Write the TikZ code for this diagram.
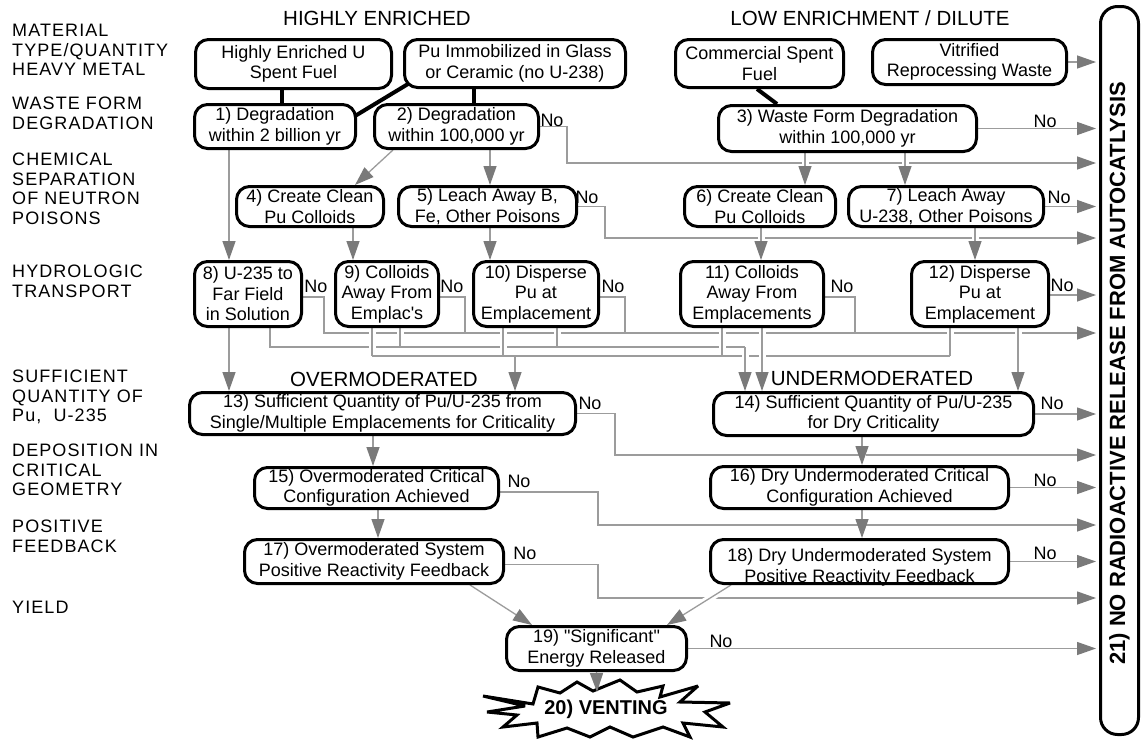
\documentclass[tikz,border=0pt]{standalone}
\usepackage{fontspec}
\setmainfont{Liberation Sans}
\newfontfamily\labfont[LetterSpace=6]{Liberation Sans}
\usetikzlibrary{arrows.meta,calc}
\pgfdeclarelayer{bg}
\pgfdeclarelayer{mid}
\pgfsetlayers{bg,mid,main}
\definecolor{lgray}{HTML}{9C9C9C}
\definecolor{agray}{HTML}{7A7A7A}
\newcommand\bxc[6]{\node[box,minimum width={#4-#2-3},minimum height={#5-#3-3}] (#1) at ({(#2+#4)/2},{(#3+#5)/2}) {#6};}
\begin{document}
\begin{tikzpicture}[x=1pt,y=-1pt,
  box/.style={draw,line width=3pt,rounded corners=13pt,fill=white,align=center,inner sep=0pt,font=\fontsize{18}{20.5}\selectfont},
  lab/.style={anchor=north west,align=left,inner sep=0pt,font=\labfont\fontsize{18}{19.5}\selectfont},
  hdr/.style={inner sep=0pt,font=\fontsize{20.5}{24}\selectfont},
  nolab/.style={inner sep=0pt,font=\fontsize{18}{20}\selectfont},
  ln/.style={draw=lgray,line width=1.3pt},
  arr/.style={ln,-{Triangle[width=13pt,length=19pt,color=agray]}},
  thk/.style={draw=black,line width=4pt},
  halo/.style={preaction={draw=white,line width=7pt,-,shorten <=3pt,shorten >=3pt}},
  endgap/.style={shorten >=3pt}
]
\useasboundingbox (0,0) rectangle (1144,742);
\begin{pgfonlayer}{bg}
\fill[white] (0,0) rectangle (1144,742);
\draw[line width=3pt,fill=white,line join=miter,miter limit=4] (483,696) -- (533,704) -- (538,687) -- (560,693) -- (577,682) -- (593,691) -- (620,680) -- (637,692) -- (663,686) -- (660,697) -- (698,686) -- (680,702) -- (730,703) -- (705,712) -- (723,727) -- (683,723) -- (690,737) -- (663,727) -- (633,737) -- (610,727) -- (590,737) -- (567,728) -- (538,737) -- (537,723) -- (503,727) -- (517,715) -- (487,712) -- (525,706) -- cycle;
\end{pgfonlayer}

% left labels
\node[lab] (L1) at (12,24) {MATERIAL\\TYPE/QUANTITY\\HEAVY METAL};
\node[lab] (L2) at (12,97) {WASTE FORM\\DEGRADATION};
\node[lab] (L3) at (12,153) {CHEMICAL\\SEPARATION\\OF NEUTRON\\POISONS};
\node[lab] (L4) at (12,265) {HYDROLOGIC\\TRANSPORT};
\node[lab] (L5) at (12,370) {SUFFICIENT\\QUANTITY OF\\Pu,\ \ U-235};
\node[lab] (L6) at (12,444) {DEPOSITION IN\\CRITICAL\\GEOMETRY};
\node[lab] (L7) at (12,520) {POSITIVE\\FEEDBACK};
\node[lab] (L8) at (12,601) {YIELD};

% headers
\node[hdr] (h1) at (377,18) {HIGHLY ENRICHED};
\node[hdr] (h2) at (870,18) {LOW ENRICHMENT / DILUTE};
\node[hdr] (h3) at (384,379) {OVERMODERATED};
\node[hdr] (h4) at (872,378) {UNDERMODERATED};

% boxes
\bxc{A}{194}{38}{393}{90}{Highly Enriched U\\Spent Fuel}
\bxc{B}{403}{38}{627}{89}{Pu Immobilized in Glass\\or Ceramic (no U-238)}
\bxc{C}{674}{38}{845}{89}{Commercial Spent\\Fuel}
\bxc{D}{871}{38}{1068}{86}{Vitrified\\Reprocessing Waste}
\bxc{n1}{193}{103}{357}{150}{1) Degradation\\within 2 billion yr}
\bxc{n2}{373}{103}{540}{150}{2) Degradation\\within 100,000 yr}
\bxc{n3}{717}{104}{978}{153}{3) Waste Form Degradation\\within 100,000 yr}
\bxc{n4}{235}{185}{385}{228}{4) Create Clean\\Pu Colloids}
\bxc{n5}{397}{185}{578}{228}{5) Leach Away B,\\Fe, Other Poisons}
\bxc{n6}{683}{185}{837}{228}{6) Create Clean\\Pu Colloids}
\bxc{n7}{847}{185}{1045}{228}{7) Leach Away\\U-238, Other Poisons}
\bxc{n8}{193}{260}{303}{328}{8) U-235 to\\Far Field\\in Solution}
\bxc{n9}{334}{260}{440}{328}{9) Colloids\\Away From\\Emplac\textquotesingle s}
\bxc{n10}{472}{260}{600}{328}{10) Disperse\\Pu at\\Emplacement}
\bxc{n11}{679}{260}{825}{328}{11) Colloids\\Away From\\Emplacements}
\bxc{n12}{910}{260}{1050}{328}{12) Disperse\\Pu at\\Emplacement}
\bxc{n13}{188}{391}{577}{436}{13) Sufficient Quantity of Pu/U-235 from\\Single/Multiple Emplacements for Criticality}
\bxc{n14}{712}{391}{1035}{437}{14) Sufficient Quantity of Pu/U-235\\for Dry Criticality}
\bxc{n15}{253}{466}{500}{510}{15) Overmoderated Critical\\Configuration Achieved}
\bxc{n16}{709}{465}{1010}{510}{16) Dry Undermoderated Critical\\Configuration Achieved}
\bxc{n17}{243}{538}{505}{585}{17) Overmoderated System\\Positive Reactivity Feedback}
\bxc{n18}{709}{538}{1010}{585}{}
\node[inner sep=0pt,align=center,font=\fontsize{18}{20.5}\selectfont] (n18t) at ([yshift=-6pt]n18.center) {18) Dry Undermoderated System\\Positive Reactivity Feedback};
\bxc{n19}{505}{625}{688}{672}{19) \textquotedbl Significant\textquotedbl\\Energy Released}

\node[draw,line width=3pt,rounded corners=17pt,minimum width=38,minimum height=728,inner sep=0pt] (n21) at (1119.5,370.5) {};
\node[rotate=90,inner sep=0pt,font=\bfseries\fontsize{22}{25}\selectfont] (t21) at ([yshift=-3pt]n21.center) {21) NO RADIOACTIVE RELEASE FROM AUTOCATLYSIS};
\node[inner sep=0pt,font=\bfseries\fontsize{20}{24}\selectfont] (v20) at (606,709) {20) VENTING};
\coordinate (v20top) at (597,692);

% No labels
\node[nolab] (no2) at (552,120) {No};
\node[nolab] (no3) at (1045,121) {No};
\node[nolab] (no5) at (587,197) {No};
\node[nolab] (no7) at (1059,197) {No};
\node[nolab] (no8) at (316,286) {No};
\node[nolab] (no9) at (452,286) {No};
\node[nolab] (no10) at (613,286) {No};
\node[nolab] (no11) at (842,286) {No};
\node[nolab] (no12) at (1062,285) {No};
\node[nolab] (no13) at (590,403) {No};
\node[nolab] (no14) at (1052,403) {No};
\node[nolab] (no15) at (519,481) {No};
\node[nolab] (no16) at (1045,480) {No};
\node[nolab] (no17) at (525,553) {No};
\node[nolab] (no18) at (1045,553) {No};
\node[nolab] (no19) at (721,641) {No};

\coordinate (ja) at (324,333);
\coordinate (jb) at (745,347);
\coordinate (jc1) at (372,356);
\coordinate (jc2) at (950,356);
\coordinate (jc3) at (515,356);

\begin{pgfonlayer}{mid}
% thick black
\draw[thk] (A.south -| 282,0) -- (n1.north -| 282,0);
\draw[thk] ([shift={(5,-5)}]B.south west) -- ([shift={(-2,13)}]n1.north east);
\draw[thk] (B.south -| 474,0) -- (n2.north -| 474,0);
\draw[thk] (C.south -| 757,0) -- (n3.north -| 777,0);
% rows 1-3
\draw[arr,endgap] (D.east) -- (n21.west |- D.east);
\draw[arr] (n1.south -| 229,0) -- (n8.north -| 229,0);
\draw[arr] (n2.south -| 393,0) -- (n4.north -| 355,0);
\draw[arr] (n2.south -| 490,0) -- (n5.north -| 490,0);
\draw[arr,endgap] (n2.east) -| (567,163) -- (n21.west |- 0,163);
\draw[arr,endgap] (n3.east) -- (n21.west |- n3.east);
\draw[arr,halo] (n3.south -| 805,0) -- (n6.north -| 805,0);
\draw[arr,halo] (n3.south -| 905,0) -- (n7.north -| 905,0);
\draw[arr] (n4.south -| 353,0) -- (n9.north -| 353,0);
\draw[arr] (n5.south -| 490,0) -- (n10.north -| 490,0);
\draw[arr,endgap] (n5.east) -| (605,238) -- (n21.west |- 0,238);
\draw[arr,endgap] (n7.east) -- (n21.west |- n7.east);
\draw[arr,halo] (n6.south -| 761,0) -- (n11.north -| 761,0);
\draw[arr,halo] (n7.south -| 975,0) -- (n12.north -| 975,0);
% row 4 -> 5 trunks
\draw[arr,endgap] ([yshift=-3pt]n8.east) -| (ja) -- (n21.west |- ja);
\draw[ln] ([yshift=-3pt]n9.east) -| (465,333);
\draw[ln] ([yshift=-3pt]n10.east) -| (625,333);
\draw[ln] ([yshift=-3pt]n11.east) -| (855,333);
\draw[arr,endgap] ([yshift=-1pt]n12.east) -- (n21.west |- 0,295);
\draw[ln] (n8.south -| 270,0) |- (jb);
\draw[ln] (jc1) -- (jc2);
\draw[arr] (jc3) -- (n13.north -| jc3);
\draw[arr] (n8.south -| 229,0) -- (n13.north -| 229,0);
\draw[ln,halo] (n9.south -| 400,0) -- (400,347);
\draw[ln,halo] (n9.south -| jc1) -- (jc1);
\draw[ln,halo] (n10.south -| 503,0) -- (503,356);
\draw[ln,halo] (n10.south -| 557,0) -- (557,347);
\draw[ln,halo] (n11.south -| 722,0) -- (722,356);
\draw[arr,halo] (n11.south -| 762,0) -- (n14.north -| 762,0);
\draw[ln,halo] (n12.south -| jc2) -- (jc2);
\draw[arr,halo] (n12.south -| 1018,0) -- (n14.north -| 1018,0);
\draw[arr,halo] (jb) -- (n14.north -| jb);
% rows 5-8
\draw[arr,endgap] (n13.east) -| (615,455) -- (n21.west |- 0,455);
\draw[arr,endgap] (n14.east) -- (n21.west |- n14.east);
\draw[arr] (n13.south -| 373,0) -- (n15.north -| 373,0);
\draw[arr,halo] (n14.south -| 862,0) -- (n16.north -| 862,0);
\draw[arr,endgap] ([yshift=-4pt]n15.east) -| (598,525) -- (n21.west |- 0,525);
\draw[arr,endgap] (n16.east) -- (n21.west |- n16.east);
\draw[arr] (n15.south -| 378,0) -- (n17.north -| 378,0);
\draw[arr,halo] (n16.south -| 862,0) -- (n18.north -| 862,0);
\draw[arr,endgap] ([yshift=-3pt]n17.east) -| (598,598) -- (n21.west |- 0,598);
\draw[arr,endgap] (n18.east) -- (n21.west |- n18.east);
\draw[arr] (n17.south -| 470,0) -- (n19.north -| 532,0);
\draw[arr,halo] (n18.south -| 731,0) -- (n19.north -| 667,0);
\draw[arr,endgap] (n19.east) -- (n21.west |- n19.east);
\draw[arr] (n19.south) -- (v20top);
\end{pgfonlayer}
\end{tikzpicture}
\end{document}
